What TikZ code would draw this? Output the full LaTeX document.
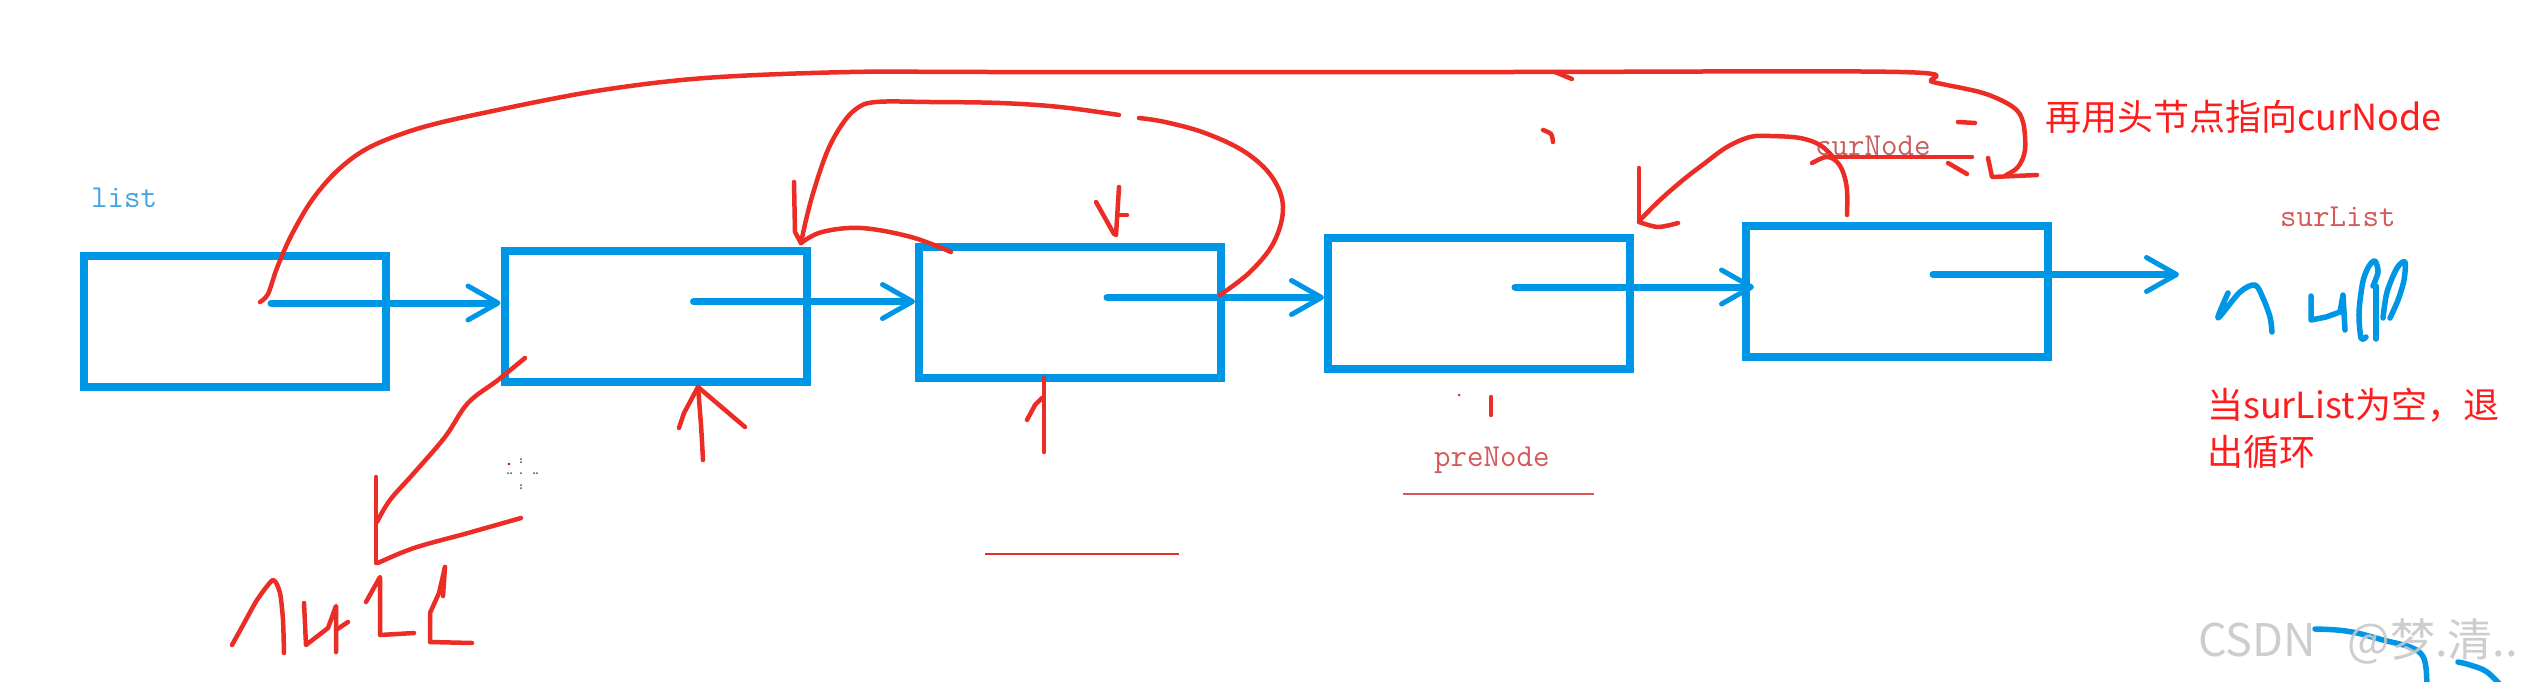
\documentclass[tikz,border=0pt]{standalone}
\usepackage{fontspec}
\newfontfamily\cjk{Noto Sans CJK SC}
\usetikzlibrary{arrows.meta,calc}
\definecolor{nodeblue}{RGB}{0,150,230}
\definecolor{penred}{RGB}{236,45,38}
\definecolor{txtred}{RGB}{255,28,28}
\definecolor{lblred}{RGB}{214,88,88}
\definecolor{lblblue}{RGB}{66,165,225}
\definecolor{wmgray}{RGB}{200,200,200}
\tikzset{
  listbox/.style={draw=nodeblue, line width=8pt, minimum width=302pt, minimum height=131pt, inner sep=0pt},
  ptr/.style={draw=nodeblue, line width=7pt, line cap=round, -{Straight Barb[length=30pt,width=34pt,line width=5pt,round]}},
  pen/.style={draw=penred, line width=4.5pt, line cap=round, line join=round},
  bluepen/.style={draw=nodeblue, line width=5.5pt, line cap=round, line join=round},
  lbl/.style={anchor=base west, inner sep=0pt, font=\ttfamily\fontsize{32}{32}\selectfont},
  note/.style={anchor=base west, inner sep=0pt, text=txtred, font=\cjk\fontsize{36}{36}\selectfont},
}
\begin{document}
\begin{tikzpicture}[x=1pt,y=-1pt]
\fill[white] (0,0) rectangle (2528,681);
\useasboundingbox (0,0) rectangle (2528,681);

% list nodes
\node[listbox] (b1) at (235,321) {};
\node[listbox] (b2) at (655.5,316.5) {};
\node[listbox] (b3) at (1070,312.5) {};
\node[listbox] (b4) at (1479,303) {};
\node[listbox] (b5) at (1897,291.5) {};

\coordinate (p1) at ($(b1.center)+(36,-18)$);
\coordinate (p2) at ($(b2.center)+(38,-15)$);
\coordinate (p3) at ($(b3.center)+(37,-15)$);
\coordinate (p4) at ($(b4.center)+(36,-16)$);
\coordinate (p5) at ($(b5.center)+(36,-17)$);
\coordinate (nullend) at (2179,274.5);

\draw[ptr] (p1) -- (p1 -| b2.west);
\draw[ptr] (p2) -- (p2 -| b3.west);
\draw[ptr] (p3) -- (p3 -| b4.west);
\draw[ptr, shorten >=-12pt] (p4) -- (p4 -| b5.west);
\draw[ptr] (p5) -- (nullend);

% labels
\node[lbl, text=lblblue] (listlbl) at (91,207) {list};
\node[lbl, text=lblred] (surlbl) at (2280,226) {surList};
\node[lbl, text=lblred] (prelbl) at (1434,466) {preNode};
\node[lbl, text=lblred!85!gray] (curlbl) at (1815,155) {curNode};
\node[note] (note1) at (2045,130) {再用头节点指向curNode};
\node[note] (note2a) at (2207,418) {当surList为空，退};
\node[note] (note2b) at (2207,465) {出循环};

% underlines
\draw[draw=lblred, line width=2.2pt] (1403,494) -- (1594,494);
\draw[draw=penred, line width=2.5pt] (985,554) -- (1179,554);

% big red arc from list head to curNode
\draw[pen] plot[smooth, tension=0.55] coordinates {(260,302) (268,294) (277,268) (291,236) (312,200) (338,170) (370,147) (420,128) (488,112) (596,91) (705,78) (850,72) (1000,72) (1500,72) (1900,72) (1933,82) (1983,93) (2013,107) (2023,122) (2025,150) (2018,167) (2006,175)};
\draw[pen] (1988,158) -- (1992,177) -- (2037,175);

% arc over box3 back to box2
\draw[pen] plot[smooth, tension=0.6] coordinates {(1220,295) (1250,272) (1274,242) (1283,207) (1272,177) (1245,152) (1205,133) (1165,122) (1139,118)};
\draw[pen] plot[smooth, tension=0.6] coordinates {(1119,115) (1060,107) (1000,103) (930,102) (876,102) (856,109) (841,126) (827,152) (814,190) (806,220) (801,243)};
\draw[pen] (794,182) -- (795,232) -- (801,243);
\draw[pen] plot[smooth, tension=0.6] coordinates {(801,243) (822,232) (861,228) (911,237) (951,252)};

% small down arrow above box3
\draw[pen] (1119,187) -- (1116,235);
\draw[pen] (1096,202) -- (1114,234);
\draw[pen] (1119,215) -- (1127,215);

% up arrow below box2
\draw[pen] plot[smooth] coordinates {(703,460) (701,425) (698,387)};
\draw[pen] (679,428) -- (684,413) -- (698,387) -- (745,427);

% mark below box3
\draw[pen] (1044,378) -- (1044,452);
\draw[pen] (1027,420) -- (1035,405) -- (1042,398);

% arrow from box2 to null
\draw[pen] plot[smooth, tension=0.6] coordinates {(525,358) (498,380) (468,403) (445,437) (414,473) (390,500) (377,522)};
\draw[pen] (376,477) -- (376,563);
\draw[pen] plot[smooth, tension=0.6] coordinates {(378,563) (414,548) (468,533) (521,518)};

% handwritten red null
\draw[pen] plot[smooth, tension=0.4] coordinates {(232,645) (242,627) (257,600) (273,580) (280,593) (283,620) (284,653)};
\draw[pen] (304,603) -- (306,645) -- (328,628) -- (336,606) -- (336,652);
\draw[pen] (336,630) -- (348,622);
\draw[pen] (366,602) -- (380,577) -- (380,635) -- (414,633);
\draw[pen] (445,567) -- (439,593) -- (430,613) -- (430,642) -- (472,643);
\draw[pen] (445,567) -- (443,596);

% mark below box4
\draw[pen] (1491,397) -- (1491,415);
\fill[penred] (1459,395) circle[radius=1.5pt];

% arrow from box5 back to box4
\draw[pen] plot[smooth, tension=0.6] coordinates {(1847,215) (1847,190) (1843,172) (1836,161) (1826,157) (1812,163)};
\draw[pen] plot[smooth, tension=0.6] coordinates {(1833,157) (1820,145) (1800,138) (1770,136) (1750,137) (1727,147) (1705,163) (1683,180) (1660,200) (1640,220)};
\draw[pen] (1833,157) -- (1972,157);
\draw[pen] (1639,168) -- (1639,222);
\draw[pen] plot[smooth] coordinates {(1639,222) (1658,227) (1678,223)};

% small stray ticks
\draw[pen] (1555,72) -- (1572,79);
\draw[pen] plot[smooth] coordinates {(1543,130) (1551,134) (1553,142)};
\draw[pen] (1958,122) -- (1975,123);
\draw[pen] (1948,163) -- (1967,174);

% cursor dots
\fill[penred!60!black] (509,464) circle[radius=1.3pt];
\foreach \p in {(521,459),(521,462),(508,473),(511,473),(521,473),(534,473),(537,473),(521,485),(521,488)}
  \fill[black!70] \p circle[radius=1pt];

% handwritten blue null
\draw[bluepen] plot[smooth, tension=0.5] coordinates {(2228,293) (2218,318) (2240,292) (2255,285) (2263,298) (2270,317) (2272,332)};
\draw[bluepen] (2311,296) -- (2311,320) -- (2326,317) -- (2340,312) -- (2343,295) -- (2345,330);
\draw[bluepen] plot[smooth, tension=0.5] coordinates {(2366,337) (2361,338) (2359,312) (2363,281) (2369,266) (2375,261) (2378,272) (2373,286)};
\draw[bluepen] (2376,286) -- (2376,339);
\draw[bluepen] plot[smooth, tension=0.5] coordinates {(2390,318) (2398,300) (2404,280) (2405,262) (2397,268) (2387,292) (2383,318)};

% blue strokes at bottom right
\draw[bluepen] plot[smooth, tension=0.6] coordinates {(2315,629) (2337,630) (2357,633) (2383,640) (2410,647) (2422,655) (2426,668) (2427,690)};
\draw[bluepen] plot[smooth, tension=0.6] coordinates {(2458,662) (2470,665) (2487,672) (2505,690)};

% watermark
\node[anchor=base west, inner sep=0pt, text=wmgray, font=\cjk\fontsize{45}{45}\selectfont, text opacity=0.9] (wm) at (2198,656) {CSDN\hspace{0.7em}@梦.清..};
\end{tikzpicture}
\end{document}
